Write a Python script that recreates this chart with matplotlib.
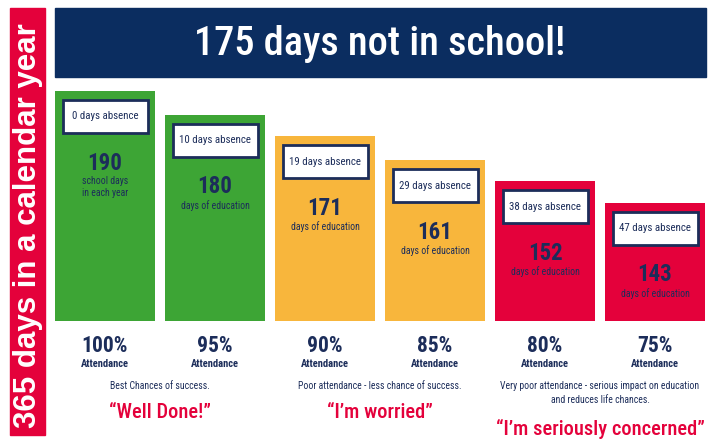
import matplotlib
matplotlib.use("Agg")
import matplotlib.pyplot as plt
import matplotlib.transforms as mtransforms
from matplotlib.patches import Rectangle

# dane
attendance = ["100%", "95%", "90%", "85%", "80%", "75%"]
absence = [0, 10, 19, 29, 38, 47]
school_days = [190, 180, 171, 161, 152, 143]
sub_labels = ["school days\nin each year"] + ["days of education"] * 5
bar_colors = ["#3da535", "#3da535", "#f8b63c", "#f8b63c", "#e4013b", "#e4013b"]

groups = [
    (0.5, "Best Chances of success.", "\u201cWell Done!\u201d"),
    (2.5, "Poor attendance - less chance of success.", "\u201cI\u2019m worried\u201d"),
    (4.5, "Very poor attendance - serious impact on education\nand reduces life chances.",
     "\u201cI\u2019m seriously concerned\u201d"),
]

NAVY = "#0b2d60"
TEXT = "#1c2d5a"
RED = "#e4013b"
narrow = ["Roboto Condensed", "Liberation Sans", "DejaVu Sans"]

fig = plt.figure(figsize=(7.08, 4.41), dpi=100)

# tlo w pikselach
bg = fig.add_axes([0, 0, 1, 1])
bg.set_xlim(0, 708)
bg.set_ylim(441, 0)
bg.axis("off")

# lewy pasek
bg.add_patch(Rectangle((10, 8), 35, 427, color=RED))
bg.text(28.5, 226, "365 days in a calendar year", rotation=90, color="white",
        fontsize=22.5, fontweight="bold", family=["Liberation Sans", "DejaVu Sans"],
        ha="center", va="center")

# tytul
bg.add_patch(Rectangle((55, 8), 651, 69, color=NAVY))
bg.text(380, 44, "175 days not in school!", color="white", fontsize=29,
        fontweight="medium", family=narrow, ha="center", va="center")

# slupki
y_bottom = 93.4
ax = fig.add_axes([55 / 708, (441 - 321) / 441, 650 / 708, 230 / 441])
x = list(range(len(school_days)))
ax.bar(x, school_days, width=100 / 110, color=bar_colors, bottom=0)
ax.set_xlim(-0.4545, 5.4545)
ax.set_ylim(y_bottom, 190)
ax.axis("off")

px_per_day = 230 / (190 - y_bottom)

for i, d in enumerate(school_days):
    top = d - 9 / px_per_day
    h = 33 / px_per_day
    ax.add_patch(Rectangle((i - 0.386, top - h), 0.773, h, facecolor="white",
                           edgecolor=TEXT, linewidth=2, zorder=3))
    ax.text(i, top - h / 2, f"{absence[i]} days absence", color=TEXT, fontsize=7.8,
            family=narrow, ha="center", va="center", zorder=4)
    ax.text(i, d - 72 / px_per_day, str(d), color=TEXT, fontsize=16.5, fontweight="bold",
            family=narrow, ha="center", va="center")
    ax.text(i, d - 85 / px_per_day, sub_labels[i], color=TEXT, fontsize=7,
            family=narrow, ha="center", va="top", linespacing=1.2)

# podpisy pod slupkami
trans = mtransforms.blended_transform_factory(ax.transData, bg.transData)
for i, a in enumerate(attendance):
    ax.text(i, 346, a, transform=trans, color=TEXT, fontsize=15.5, fontweight="bold",
            family=narrow, ha="center", va="center", clip_on=False)
    ax.text(i, 364, "Attendance", transform=trans, color=TEXT, fontsize=7.6,
            fontweight="bold", family=narrow, ha="center", va="center", clip_on=False)

for gx, desc, quote in groups:
    ax.text(gx, 381, desc, transform=trans, color=TEXT, fontsize=7, family=narrow,
            ha="center", va="top", linespacing=1.45, clip_on=False)
    qy = 413 if "\n" not in desc else 429
    ax.text(gx, qy, quote, transform=trans, color=RED, fontsize=14.8, fontweight="medium",
            family=narrow, ha="center", va="center", clip_on=False)

plt.savefig("out.png", dpi=100)
